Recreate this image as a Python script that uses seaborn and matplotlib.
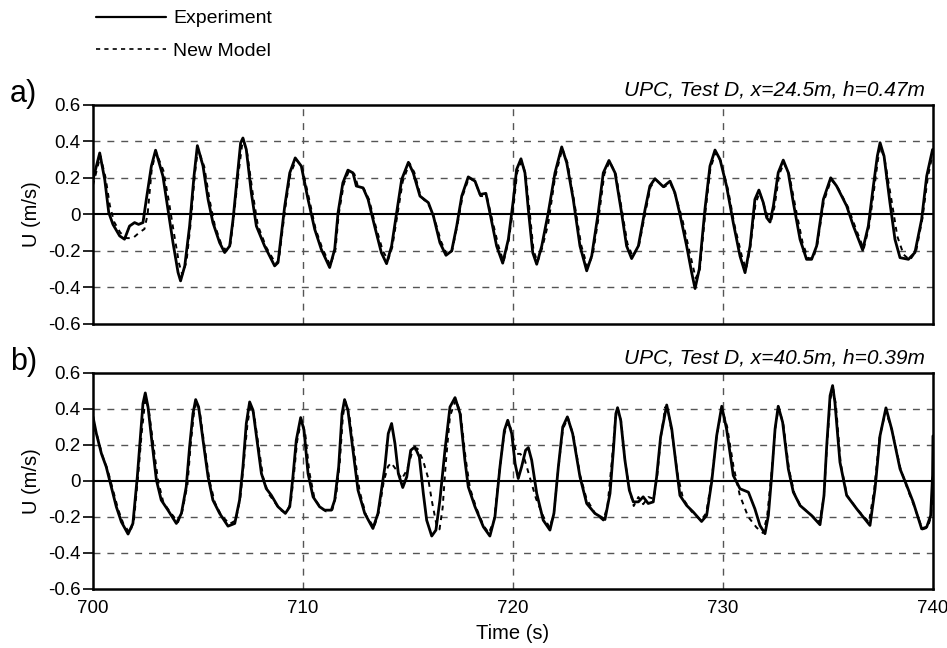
import numpy as np
import pandas as pd
import matplotlib
matplotlib.use("Agg")
import matplotlib.pyplot as plt
from matplotlib.lines import Line2D
import seaborn as sns

# ---------------- data ----------------
a_exp_t = [700.0, 700.32, 700.56, 700.75, 700.95, 701.27, 701.5, 701.74, 701.98, 702.17, 702.38, 702.54,
           702.78, 702.98, 703.33, 703.57, 703.81, 704.05, 704.17, 704.37, 704.6, 704.81, 704.97, 705.24,
           705.48, 705.71, 706.03, 706.27, 706.51, 706.67, 706.86, 707.03, 707.14, 707.3, 707.54, 707.78,
           708.17, 708.65, 708.81, 709.13, 709.37, 709.63, 709.92, 710.24, 710.56, 710.87, 711.27, 711.51,
           711.67, 711.9, 712.14, 712.38, 712.54, 712.86, 713.1, 713.41, 713.73, 713.98, 714.22, 714.46,
           714.7, 715.02, 715.25, 715.57, 715.97, 716.21, 716.52, 716.81, 717.08, 717.32, 717.56, 717.87,
           718.19, 718.43, 718.71, 718.9, 719.22, 719.51, 719.78, 720.02, 720.17, 720.38, 720.57, 720.73,
           720.94, 721.13, 721.37, 721.68, 722.0, 722.32, 722.56, 722.87, 723.19, 723.51, 723.75, 724.06,
           724.3, 724.57, 724.86, 725.17, 725.41, 725.65, 725.97, 726.29, 726.52, 726.76, 727.16, 727.48,
           727.71, 727.95, 728.27, 728.51, 728.67, 728.87, 729.14, 729.38, 729.62, 729.86, 730.17, 730.49,
           730.81, 731.05, 731.29, 731.52, 731.71, 731.92, 732.08, 732.24, 732.4, 732.63, 732.87, 733.11,
           733.35, 733.67, 733.98, 734.22, 734.46, 734.78, 735.13, 735.41, 735.89, 736.21, 736.65, 736.92,
           737.16, 737.35, 737.48, 737.67, 737.95, 738.19, 738.43, 738.83, 739.14, 739.46, 739.7, 739.98]
a_exp_u = [0.19, 0.336, 0.19, 0.01, -0.055, -0.118, -0.136, -0.064, -0.045, -0.055, -0.045, 0.082,
           0.264, 0.351, 0.209, 0.027, -0.155, -0.318, -0.364, -0.282, -0.064, 0.209, 0.376, 0.264,
           0.082, -0.045, -0.155, -0.209, -0.173, -0.027, 0.191, 0.391, 0.418, 0.355, 0.118, -0.064,
           -0.173, -0.282, -0.264, 0.045, 0.227, 0.309, 0.264, 0.082, -0.082, -0.191, -0.291, -0.191,
           0.009, 0.173, 0.242, 0.227, 0.155, 0.145, 0.082, -0.064, -0.209, -0.27, -0.173, 0.009,
           0.191, 0.285, 0.227, 0.1, 0.064, -0.009, -0.155, -0.224, -0.2, -0.064, 0.1, 0.205,
           0.182, 0.109, 0.115, 0.009, -0.173, -0.267, -0.136, 0.082, 0.245, 0.304, 0.227, 0.027,
           -0.209, -0.273, -0.173, 0.009, 0.227, 0.369, 0.282, 0.082, -0.173, -0.309, -0.227, 0.009,
           0.227, 0.295, 0.227, 0.009, -0.173, -0.242, -0.173, 0.027, 0.155, 0.195, 0.151, 0.182,
           0.118, 0.0, -0.173, -0.319, -0.406, -0.3, 0.027, 0.264, 0.352, 0.3, 0.155, -0.046,
           -0.228, -0.319, -0.173, 0.082, 0.133, 0.064, -0.018, -0.042, 0.046, 0.228, 0.297, 0.228,
           0.064, -0.137, -0.246, -0.246, -0.173, 0.082, 0.2, 0.155, 0.046, -0.064, -0.195, -0.064,
           0.155, 0.319, 0.392, 0.319, 0.064, -0.137, -0.237, -0.246, -0.209, -0.027, 0.209, 0.355]

a_mod_t = [700.0, 700.35, 700.6, 700.8, 701.0, 701.3, 701.6, 701.9, 702.2, 702.45, 702.6, 702.8, 703.0,
           703.35, 703.6, 703.85, 704.1, 704.25, 704.45, 704.65, 704.85, 705.0, 705.3, 705.55, 705.8,
           706.1, 706.35, 706.55, 706.7, 706.9, 707.1, 707.18, 707.35, 707.6, 707.85, 708.25, 708.7,
           708.85, 709.15, 709.4, 709.68, 709.95, 710.3, 710.6, 710.9, 711.3, 711.55, 711.7, 711.95,
           712.2, 712.45, 712.6, 712.9, 713.15, 713.45, 713.8, 714.05, 714.25, 714.5, 714.75, 715.07,
           715.3, 715.6, 716.0, 716.25, 716.58, 716.85, 717.1, 717.35, 717.6, 717.9, 718.2, 718.45,
           718.75, 718.95, 719.3, 719.55, 719.8, 720.05, 720.2, 720.42, 720.6, 720.78, 720.98, 721.17,
           721.4, 721.68, 722.0, 722.35, 722.6, 722.9, 723.25, 723.55, 723.8, 724.1, 724.35, 724.6,
           724.9, 725.22, 725.45, 725.7, 726.0, 726.32, 726.55, 726.8, 727.2, 727.5, 727.75, 728.05,
           728.4, 728.7, 728.9, 729.15, 729.4, 729.65, 729.9, 730.25, 730.55, 730.9, 731.1, 731.3,
           731.55, 731.75, 731.95, 732.15, 732.3, 732.45, 732.68, 732.9, 733.15, 733.45, 733.8, 734.05,
           734.3, 734.5, 734.8, 735.15, 735.45, 735.95, 736.3, 736.7, 736.95, 737.2, 737.38, 737.5,
           737.7, 738.05, 738.3, 738.6, 738.9, 739.2, 739.5, 739.75, 740.0]
a_mod_u = [0.16, 0.32, 0.2, 0.05, -0.04, -0.1, -0.13, -0.13, -0.1, -0.08, 0.0, 0.25, 0.34,
           0.24, 0.08, -0.1, -0.27, -0.33, -0.26, -0.05, 0.22, 0.36, 0.26, 0.08, -0.06,
           -0.16, -0.2, -0.16, -0.02, 0.2, 0.38, 0.4, 0.33, 0.12, -0.06, -0.18, -0.27,
           -0.25, 0.03, 0.22, 0.3, 0.26, 0.08, -0.08, -0.18, -0.28, -0.19, 0.0, 0.17,
           0.24, 0.22, 0.16, 0.14, 0.08, -0.06, -0.2, -0.25, -0.18, 0.0, 0.18, 0.28,
           0.23, 0.1, 0.05, -0.02, -0.15, -0.22, -0.2, -0.06, 0.1, 0.2, 0.18, 0.1,
           0.1, 0.0, -0.17, -0.26, -0.14, 0.07, 0.23, 0.29, 0.22, 0.03, -0.2, -0.26,
           -0.18, -0.05, 0.2, 0.36, 0.28, 0.08, -0.17, -0.29, -0.22, 0.0, 0.22, 0.29,
           0.22, 0.0, -0.16, -0.23, -0.17, 0.02, 0.15, 0.19, 0.15, 0.17, 0.1, -0.02,
           -0.2, -0.35, -0.3, 0.0, 0.25, 0.34, 0.29, 0.13, -0.06, -0.23, -0.3, -0.18,
           0.06, 0.12, 0.05, -0.02, -0.03, 0.04, 0.22, 0.28, 0.22, 0.04, -0.16, -0.24,
           -0.24, -0.16, 0.07, 0.19, 0.15, 0.04, -0.07, -0.19, -0.07, 0.14, 0.3, 0.37,
           0.3, 0.06, -0.12, -0.22, -0.25, -0.2, -0.02, 0.2, 0.34]

b_exp_t = [700.0, 700.16, 700.4, 700.63, 700.87, 701.11, 701.35, 701.67, 701.9, 702.11, 702.27, 702.38,
           702.49, 702.62, 702.78, 703.02, 703.25, 703.57, 703.97, 704.21, 704.44, 704.6, 704.76, 704.89,
           705.03, 705.24, 705.48, 705.71, 706.03, 706.43, 706.75, 706.98, 707.14, 707.3, 707.46, 707.62,
           707.83, 708.02, 708.25, 708.49, 708.81, 709.16, 709.37, 709.52, 709.68, 709.89, 710.05, 710.24,
           710.48, 710.79, 711.03, 711.35, 711.51, 711.7, 711.86, 711.98, 712.14, 712.38, 712.62, 712.94,
           713.33, 713.57, 713.9, 714.06, 714.22, 714.38, 714.54, 714.75, 714.94, 715.13, 715.33, 715.54,
           715.73, 715.89, 716.13, 716.33, 716.52, 716.76, 717.0, 717.24, 717.48, 717.71, 717.87, 718.19,
           718.59, 718.9, 719.14, 719.38, 719.59, 719.75, 719.94, 720.1, 720.25, 720.41, 720.6, 720.73,
           720.89, 721.13, 721.44, 721.76, 721.95, 722.16, 722.37, 722.59, 722.84, 723.19, 723.51, 723.9,
           724.38, 724.62, 724.78, 724.9, 724.98, 725.13, 725.33, 725.54, 725.73, 725.97, 726.2, 726.44,
           726.68, 726.84, 727.03, 727.32, 727.56, 727.79, 727.95, 728.27, 728.59, 728.98, 729.22, 729.46,
           729.7, 729.94, 730.17, 730.49, 730.81, 731.21, 731.52, 731.76, 732.0, 732.16, 732.32, 732.48,
           732.63, 732.84, 733.11, 733.35, 733.67, 734.22, 734.62, 734.81, 734.94, 735.1, 735.22, 735.33,
           735.57, 735.89, 736.37, 737.0, 737.24, 737.48, 737.76, 738.03, 738.43, 738.75, 739.06, 739.46,
           739.7, 739.89, 739.98, 740.0]
b_exp_u = [0.356, 0.263, 0.152, 0.078, -0.033, -0.144, -0.228, -0.296, -0.237, 0.022, 0.263, 0.43,
           0.489, 0.411, 0.244, 0.004, -0.107, -0.163, -0.237, -0.181, -0.033, 0.189, 0.374, 0.452,
           0.411, 0.226, 0.022, -0.107, -0.181, -0.252, -0.237, -0.107, 0.078, 0.319, 0.439, 0.393,
           0.207, 0.041, -0.043, -0.08, -0.144, -0.181, -0.144, 0.022, 0.226, 0.352, 0.281, 0.041,
           -0.089, -0.144, -0.163, -0.163, -0.107, 0.078, 0.374, 0.452, 0.393, 0.17, -0.052, -0.181,
           -0.265, -0.181, 0.078, 0.263, 0.319, 0.207, 0.041, -0.037, 0.022, 0.17, 0.189, 0.133,
           -0.07, -0.219, -0.307, -0.274, -0.107, 0.17, 0.411, 0.463, 0.374, 0.115, -0.033, -0.144,
           -0.256, -0.307, -0.2, 0.078, 0.281, 0.337, 0.263, 0.096, 0.013, 0.078, 0.17, 0.185,
           0.115, -0.07, -0.219, -0.274, -0.181, 0.078, 0.3, 0.356, 0.263, 0.022, -0.126, -0.181,
           -0.215, -0.07, 0.17, 0.374, 0.407, 0.337, 0.115, -0.052, -0.117, -0.117, -0.089, -0.126,
           -0.117, 0.022, 0.244, 0.422, 0.289, 0.067, -0.081, -0.137, -0.174, -0.226, -0.193, -0.007,
           0.252, 0.415, 0.289, 0.03, -0.044, -0.063, -0.156, -0.248, -0.294, -0.193, 0.03, 0.289,
           0.415, 0.326, 0.067, -0.063, -0.137, -0.193, -0.244, -0.081, 0.196, 0.474, 0.53, 0.437,
           0.104, -0.081, -0.156, -0.248, -0.044, 0.252, 0.406, 0.289, 0.067, -0.026, -0.119, -0.267,
           -0.257, -0.193, 0.03, 0.25]

b_mod_t = [700.0, 700.2, 700.45, 700.7, 700.95, 701.2, 701.45, 701.75, 701.95, 702.15, 702.32, 702.5,
           702.65, 702.85, 703.1, 703.35, 703.65, 704.05, 704.25, 704.5, 704.65, 704.8, 704.93, 705.08,
           705.3, 705.55, 705.8, 706.1, 706.5, 706.8, 707.02, 707.18, 707.35, 707.5, 707.67, 707.9,
           708.1, 708.35, 708.6, 708.9, 709.2, 709.42, 709.58, 709.72, 709.92, 710.1, 710.3, 710.55,
           710.85, 711.1, 711.4, 711.58, 711.75, 711.9, 712.02, 712.2, 712.45, 712.7, 713.0, 713.38,
           713.62, 713.85, 714.05, 714.2, 714.45, 714.7, 714.95, 715.2, 715.45, 715.7, 715.95, 716.15,
           716.35, 716.5, 716.65, 716.8, 717.0, 717.28, 717.5, 717.75, 717.95, 718.25, 718.6, 718.85,
           719.1, 719.35, 719.58, 719.78, 719.98, 720.15, 720.35, 720.55, 720.8, 721.1, 721.45, 721.75,
           721.95, 722.15, 722.38, 722.62, 722.88, 723.2, 723.5, 723.9, 724.3, 724.5, 724.7, 724.88,
           725.0, 725.15, 725.35, 725.55, 725.75, 725.97, 726.2, 726.45, 726.7, 726.87, 727.05, 727.25,
           727.4, 727.6, 727.85, 728.1, 728.5, 728.95, 729.2, 729.45, 729.7, 729.95, 730.2, 730.5,
           730.8, 731.2, 731.6, 731.9, 732.1, 732.3, 732.5, 732.65, 732.88, 733.15, 733.4, 733.7,
           734.2, 734.6, 734.8, 734.95, 735.12, 735.25, 735.38, 735.6, 735.9, 736.4, 736.95, 737.2,
           737.45, 737.75, 738.05, 738.45, 738.8, 739.1, 739.5, 739.75, 739.9, 740.0]
b_mod_u = [0.3, 0.25, 0.14, 0.06, -0.05, -0.16, -0.24, -0.29, -0.22, 0.03, 0.27, 0.46,
           0.4, 0.22, 0.0, -0.12, -0.17, -0.23, -0.17, -0.02, 0.2, 0.37, 0.44, 0.39,
           0.2, 0.0, -0.12, -0.19, -0.24, -0.22, -0.09, 0.1, 0.31, 0.42, 0.37, 0.18,
           0.02, -0.07, -0.11, -0.16, -0.18, -0.12, 0.05, 0.22, 0.34, 0.27, 0.05, -0.1,
           -0.15, -0.17, -0.16, -0.08, 0.1, 0.36, 0.44, 0.37, 0.15, -0.06, -0.19, -0.26,
           -0.17, 0.0, 0.08, 0.1, 0.06, 0.01, 0.06, 0.16, 0.18, 0.12, 0.02, -0.12,
           -0.24, -0.27, -0.15, 0.1, 0.36, 0.45, 0.38, 0.12, -0.04, -0.15, -0.25, -0.29,
           -0.22, 0.05, 0.26, 0.33, 0.26, 0.15, 0.15, 0.12, 0.02, -0.1, -0.2, -0.26,
           -0.18, 0.06, 0.29, 0.35, 0.25, 0.03, -0.1, -0.18, -0.22, -0.14, 0.1, 0.35,
           0.4, 0.33, 0.1, -0.05, -0.14, -0.09, -0.13, -0.09, -0.1, 0.03, 0.25, 0.41,
           0.38, 0.24, 0.03, -0.1, -0.17, -0.22, -0.18, 0.0, 0.25, 0.4, 0.3, 0.08,
           -0.08, -0.2, -0.26, -0.29, -0.2, 0.03, 0.3, 0.41, 0.31, 0.06, -0.07, -0.14,
           -0.19, -0.23, -0.09, 0.19, 0.46, 0.51, 0.42, 0.1, -0.08, -0.16, -0.23, -0.05,
           0.24, 0.39, 0.28, 0.07, -0.05, -0.14, -0.27, -0.26, -0.2, -0.05]

titles = ["UPC, Test D, x=24.5m, h=0.47m", "UPC, Test D, x=40.5m, h=0.39m"]
panel_labels = ["a)", "b)"]
y_ticks = [-0.6, -0.4, -0.2, 0, 0.2, 0.4, 0.6]
y_ticklabels = ["-0.6", "-0.4", "-0.2", "0", "0.2", "0.4", "0.6"]
x_ticks = [700, 710, 720, 730, 740]

# ---------------- figure ----------------
sns.set_style("white")
plt.rcParams["font.family"] = ["Liberation Sans", "DejaVu Sans"]
plt.rcParams["text.color"] = "black"
plt.rcParams["axes.labelcolor"] = "black"
plt.rcParams["xtick.color"] = "black"
plt.rcParams["ytick.color"] = "black"

fig = plt.figure(figsize=(9.47, 6.48), dpi=100)
ax_a = fig.add_axes([0.0982, 0.5, 0.887, 0.3384])
ax_b = fig.add_axes([0.0982, 0.0915, 0.887, 0.3329])

panels = [
    (ax_a, a_exp_t, a_exp_u, a_mod_t, a_mod_u),
    (ax_b, b_exp_t, b_exp_u, b_mod_t, b_mod_u),
]

for i, (ax, et, eu, mt, mu) in enumerate(panels):
    # grid
    for yv in [-0.4, -0.2, 0.2, 0.4]:
        ax.axhline(yv, color="#555555", lw=1.0, ls=(0, (5, 5)), zorder=0)
    for xv in [710, 720, 730]:
        ax.axvline(xv, color="#555555", lw=1.0, ls=(0, (5, 5)), zorder=0)
    ax.axhline(0, color="black", lw=1.5, zorder=1)

    df_e = pd.DataFrame({"t": et, "u": eu})
    df_m = pd.DataFrame({"t": mt, "u": mu})
    sns.lineplot(data=df_m, x="t", y="u", ax=ax, color="black", lw=1.4,
                 estimator=None, sort=True, zorder=2)
    ax.lines[-1].set_dashes([2.5, 2.5])
    sns.lineplot(data=df_e, x="t", y="u", ax=ax, color="black", lw=2.0,
                 estimator=None, sort=True, zorder=3)

    ax.set_xlim(700, 740)
    ax.set_ylim(-0.6, 0.6)
    ax.set_yticks(y_ticks)
    ax.set_yticklabels(y_ticklabels, fontsize=13.5)
    ax.set_xticks(x_ticks)
    ax.tick_params(axis="y", direction="out", length=7, width=1.2, left=True, pad=2)
    ax.tick_params(axis="x", length=0, pad=8)
    for sp in ax.spines.values():
        sp.set_color("black")
        sp.set_linewidth(1.8)
    ax.set_ylabel("U (m/s)", fontsize=14.5, labelpad=5)
    ax.set_xlabel("")
    ax.text(0.99, 1.025, titles[i], transform=ax.transAxes, fontsize=15,
            style="italic", ha="right", va="bottom")
    ax.text(-0.099, 1.05, panel_labels[i], transform=ax.transAxes, fontsize=22,
            ha="left", va="center")

ax_a.set_xticklabels([])
ax_b.set_xticklabels([str(x) for x in x_ticks], fontsize=13.5)
ax_b.set_xlabel("Time (s)", fontsize=14.5, labelpad=5)

handles = [Line2D([], [], color="black", lw=1.6),
           Line2D([], [], color="black", lw=1.2, dashes=[2.5, 2.5])]
fig.legend(handles, ["Experiment", "New Model"], loc="upper left",
           bbox_to_anchor=(0.083, 1.012), frameon=False, fontsize=14,
           handlelength=3.6, handletextpad=0.35, labelspacing=0.75)

fig.savefig("out.png", dpi=100)
